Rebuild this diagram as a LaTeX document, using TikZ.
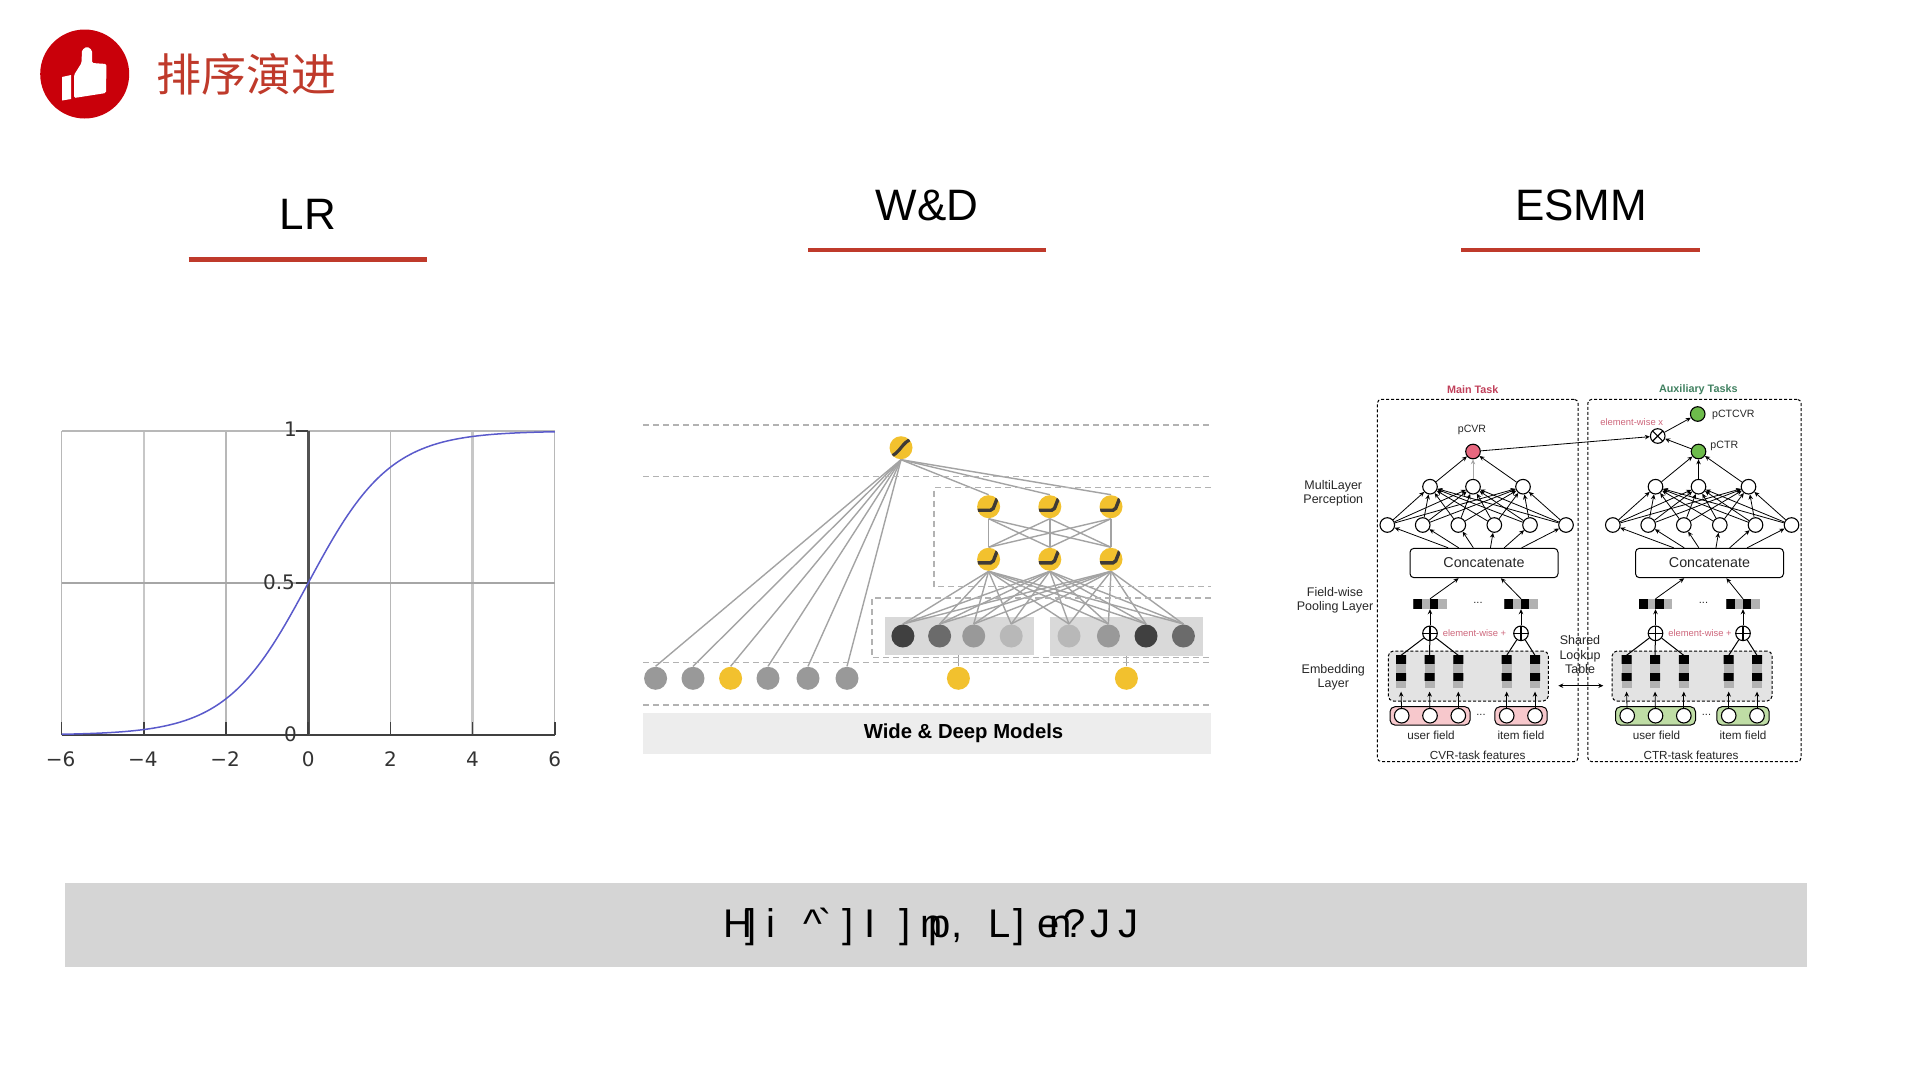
\documentclass[tikz,border=0pt]{standalone}
\usepackage{fontspec}
\setmainfont{Liberation Sans}
\setsansfont{Liberation Sans}
\newfontfamily\cjk{Noto Sans CJK SC}
\newfontfamily\plotfont{DejaVu Sans}
\usetikzlibrary{arrows.meta, backgrounds}
\definecolor{cred}{HTML}{C9000A}
\definecolor{cline}{HTML}{BF3A2B}
\definecolor{cyellow}{HTML}{F2C12E}
\definecolor{cdark}{HTML}{3F3A36}
\definecolor{cwire}{HTML}{A3A3A3}
\definecolor{crose}{HTML}{C0405A}
\definecolor{cpink}{HTML}{F7C8CC}
\definecolor{cblush}{HTML}{E8677F}
\definecolor{cgreen}{HTML}{6DBB4B}
\definecolor{cleaf}{HTML}{BFDDA5}
\definecolor{cforest}{HTML}{3F7F5F}
\definecolor{ccurve}{HTML}{5A5ACB}
\tikzset{
  every picture/.style={font=\sffamily, line width=1pt},
  head/.style={font=\fontsize{44}{50}\selectfont, inner sep=0pt},
  tiny/.style={font=\fontsize{#1}{14.5}\selectfont, text=black!85, inner sep=0pt, align=center},
  tiny/.default=12,
  plotnum/.style={font=\plotfont\fontsize{20}{24}\selectfont, text=black!80, inner sep=0pt},
  rule/.style={cline, line width=4.5pt},
  wire/.style={cwire, line width=1.4pt},
  wddash/.style={black!30, line width=1.4pt, dash pattern=on 6pt off 4pt},
  wdnode/.style={circle, fill=#1, minimum size=23pt, inner sep=0pt},
  wdtop/.style={wdnode=cyellow, path picture={
      \draw[cdark, line width=3.2pt, shift={(path picture bounding box.center)}]
        (-12,9) .. controls (-1,7) and (1,-7) .. (12,-9);}},
  wdhid/.style={wdnode=cyellow, path picture={
      \draw[cdark, line width=3.4pt, rounded corners=2pt, shift={(path picture bounding box.center)}]
        (-12,3.5) -- (4,3.5) -- (10,-12);}},
  nn/.style={circle, draw=black, fill=#1, minimum size=14.6pt, inner sep=0pt, line width=1.1pt},
  nn/.default=white,
  arr/.style={-{Stealth[length=5pt, width=4.5pt]}, black, line width=0.8pt},
  opsum/.style={nn, path picture={
      \draw[black, line width=1.1pt, shift={(path picture bounding box.center)}]
        (-8,0) -- (8,0) (0,-8) -- (0,8);}},
  opmul/.style={nn, path picture={
      \draw[black, line width=1.1pt, shift={(path picture bounding box.center)}]
        (-6,-6) -- (6,6) (-6,6) -- (6,-6);}},
  embcol/.style={inner sep=0pt, minimum width=10pt, minimum height=32.3pt, fill=black!30, path picture={
      \begin{scope}[shift={(path picture bounding box.center)}]
        \fill[black] (-6,-17) rectangle (6,-7.6);
        \fill[black] (-6,0.8) rectangle (6,9.2);
      \end{scope}}},
  poolbar/.style={inner sep=0pt, minimum width=33.4pt, minimum height=9.4pt, fill=black!30, path picture={
      \begin{scope}[shift={(path picture bounding box.center)}]
        \fill[black] (-17,-5) rectangle (-7.8,5);
        \fill[black] (-0.5,-5) rectangle (8,5);
      \end{scope}}},
}
\begin{document}
\begin{tikzpicture}[x=1pt, y=-1pt]
  \useasboundingbox (0,0) rectangle (1920,1080);
  % header
  \node[circle, fill=cred, minimum size=89pt, inner sep=0pt] (logo) at (84.7,74) {};
  \fill[white] (62,77) -- (71,75) -- (71,99) -- (62,100.5) -- cycle;
  \fill[white, rounded corners=1.5pt] (74,98) -- (74,75) -- (81.5,63) -- (82,50)
    -- (87,46.5) -- (92,50) -- (92,63) -- (106.5,64) -- (106,93) -- cycle;
  \node[font=\cjk\fontsize{45}{50}\selectfont, text=cline, inner sep=0pt] (title) at (246,74) {排序演进};

  \node[head] (lrhead) at (308,214.5) {LR};
  \node[head] (wdhead) at (927,205.5) {W\&D};
  \node[head] (eshead) at (1581,205.5) {ESMM};
  \draw[rule] (188.6,259.6) -- (427,259.6);
  \draw[rule] (808,250) -- (1046,250);
  \draw[rule] (1461,250) -- (1700,250);

  % bottom bar, its letters overlap as printed
  \node[fill=black!16.5, minimum width=1742pt, minimum height=84.5pt, inner sep=0pt] (bar) at (936,925) {};
  \node[font=\fontsize{40}{42}\selectfont, anchor=base west, inner sep=0pt] (bartext) at (723,937)
    {H\kern-6.9pt]\kern9.9pt i\kern28.1pt\textasciicircum\kern-3.4pt\textasciigrave\kern10.7pt]\kern10.9pt I\kern23.9pt]\kern9.9pt n\kern-14.2pt p\kern0.8pt,\kern25.9pt L\kern1.8pt]\kern12.9pt e\kern-10.2pt n\kern-8.2pt?\kern4.8pt J\kern8pt J};

  % LR curve
  \foreach \t in {-6,-2,0,2,6} \draw[black!28, line width=1.2pt] ({308.2+41.1*\t},431) -- ({308.2+41.1*\t},735);
  \foreach \t in {-4,4} \draw[black!22, line width=2.6pt] ({308.2+41.1*\t},431) -- ({308.2+41.1*\t},735);
  \draw[black!28, line width=1.5pt] (61.6,431) -- (555,431);
  \draw[black!35, line width=1.2pt] (61.6,583) -- (555,583);
  \draw[black!75, line width=2pt] (61.6,735) -- (555,735);
  \draw[black!68, line width=3pt] (308.2,431) -- (308.2,735);
  \foreach \t in {-6,-4,...,6} \draw[black!75, line width=1.5pt] ({308.2+41.1*\t},735) -- ({308.2+41.1*\t},722);
  \foreach \v in {431,583,735} \draw[black!75, line width=1.5pt] (296,\v) -- (308.2,\v);
  \draw[ccurve, line width=1.5pt] plot[domain=-6:6, samples=120, smooth]
    ({308.2+41.1*\x},{735-304/(1+exp(-(\x)))});
  \foreach \t/\s in {-6/−6,-4/−4,-2/−2,0/0,2/2,4/4,6/6}
    \node[plotnum] (xnum\t) at ({308.2+41.1*\t-(\t<0)*1},759.5) {\s};
  \node[plotnum] (yone) at (290.5,429) {1};
  \node[plotnum] (yhalf) at (279,582) {0.5};
  \node[plotnum] (yzero) at (290.5,734) {0};

  % W&D
  \foreach \v in {425,476.7,662.7,705} \draw[wddash] (643,\v) -- (1211,\v);
  \draw[wddash] (1211,487.7) -- (934,487.7) -- (934,586.7) -- (1211,586.7);
  \draw[wddash] (1211,598) -- (872,598) -- (872,657.7) -- (1211,657.7);
  \node[fill=black!7, minimum width=568pt, minimum height=41pt, inner sep=0pt] (wdban) at (927,733.8) {};
  \node[font=\bfseries\fontsize{20.3}{24}\selectfont, inner sep=0pt] (wdname) at (963.5,733.5) {Wide \& Deep Models};
  \node[wdtop] (top) at (901,447.7) {};
  \foreach \k/\px in {1/988.6,2/1049.8,3/1111} {
    \node[wdhid] (u\k) at (\px,506.7) {};
    \node[wdhid] (d\k) at (\px,559.3) {};
  }
  \foreach \k/\px/\c in {1/902.9/black!75,2/939.6/black!58,3/973.7/black!40,4/1011.2/black!28,5/1069/black!28,6/1108.4/black!40,7/1146/black!75,8/1183.4/black!58}
    \node[wdnode=\c] (e\k) at (\px,636) {};
  \foreach \k/\px/\c in {1/655.6/black!40,2/693/black!40,3/730.6/cyellow,4/768/black!40,5/808/black!40,6/847/black!40,7/958.4/cyellow,8/1126.4/cyellow}
    \node[wdnode=\c] (w\k) at (\px,678.3) {};
  \begin{scope}[on background layer]
    \node[fill=black!15, minimum width=149pt, minimum height=37.7pt, inner sep=0pt] (pan1) at (959,636.2) {};
    \node[fill=black!15, minimum width=153pt, minimum height=38.7pt, inner sep=0pt] (pan2) at (1126.5,636.6) {};
    \foreach \i in {1,...,6} \draw[wire] (w\i.north) -- (top.south);
    \foreach \i in {1,...,3} {
      \draw[wire] (top.south) -- (u\i.north);
      \foreach \j in {1,...,3} \draw[wire] (u\i.south) -- (d\j.north);
      \foreach \j in {1,...,8} \draw[wire] (d\i.south) -- (e\j.north);
    }
    \draw[wire] (w7) -- (w7 |- pan1.south);
    \draw[wire] (w8) -- (w8 |- pan2.south);
  \end{scope}

  % one ESMM tower: \esmmtask{xshift}{prefix}{top colour}{field colour}{item shift}{middle arrow}
  \newcommand{\esmmtask}[6]{%
    \begin{scope}[xshift=#1]
      \node[nn=#3] (#2top) at (1473,451.5) {};
      \node[draw=black, rounded corners=4pt, minimum width=148pt, minimum height=29.4pt, inner sep=0pt, font=\fontsize{14.3}{16}\selectfont, text=black!85] (#2con) at (1484,563) {Concatenate};
      \foreach \k/\px in {1/1430,2/1473,3/1523} \node[nn] (#2m\k) at (\px,486.7) {};
      \foreach \k/\px in {1/1387.3,2/1422.7,3/1458.3,4/1494.3,5/1530,6/1566} \node[nn] (#2l\k) at (\px,525) {};
      \draw[arr] (#2m1) -- (#2top);
      \draw[arr, #6] (#2m2) -- (#2top);
      \draw[arr] (#2m3) -- (#2top);
      \foreach \i in {1,...,6} \foreach \j in {1,...,3} \draw[arr] (#2l\i) -- (#2m\j);
      \foreach \k/\a in {1/157,2/149,3/125,4/67,5/37,6/22} \draw[arr] (#2con.\a) -- (#2l\k);
      \node[poolbar] (#2b1) at (1430,604) {};
      \node[poolbar] (#2b2) at ({1521+#5},604) {};
      \node[tiny=11] (#2d1) at (1478,603) {...};
      \draw[arr] (#2b1.north) -- (#2con.211);
      \draw[arr] (#2b2.north) -- (#2con.318);
      \node[opsum] (#2o1) at (1430,633.3) {};
      \node[opsum] (#2o2) at ({1521+#5},633.3) {};
      \node[tiny=9.4, text=crose!80] (#2wise) at (1474.5,633.3) {element-wise +};
      \draw[arr] (#2o1) -- (#2b1);
      \draw[arr] (#2o2) -- (#2b2);
      \node[draw=black, dashed, dash pattern=on 3pt off 2pt, fill=black!11, rounded corners=5pt, minimum width=160pt, minimum height=50pt, inner sep=0pt] (#2emb) at ({1468.3+0.5*#5},676) {};
      \foreach \k/\px in {1/1401,2/1429.5,3/1458.3} {
        \node[embcol] (#2c\k) at (\px,672) {};
        \draw (#2o1) -- (#2c\k.north);
      }
      \foreach \k/\px in {4/1506.7,5/1535} {
        \node[embcol] (#2c\k) at ({\px+#5},672) {};
        \draw (#2o2) -- (#2c\k.north);
      }
      \node[draw=black, fill=#4, rounded corners=5pt, minimum width=80pt, minimum height=18.4pt, inner sep=0pt] (#2uf) at (1430,715.9) {};
      \node[draw=black, fill=#4, rounded corners=5pt, minimum width=52.3pt, minimum height=18.4pt, inner sep=0pt] (#2if) at ({1521+#5},715.9) {};
      \foreach \k/\px in {1/1401.7,2/1430,3/1458.3} \node[nn] (#2i\k) at (\px,715.7) {};
      \foreach \k/\px in {4/1506.7,5/1535} \node[nn] (#2i\k) at ({\px+#5},715.7) {};
      \foreach \k in {1,...,5} \draw[arr, shorten >=3pt] (#2i\k) -- (#2c\k.south);
      \node[tiny=11] (#2d2) at (1481,715) {...};
      \node[tiny=11.7] (#2user) at (1431,735.7) {user field};
      \node[tiny=11.7] (#2item) at ({1521+#5},735.7) {item field};
    \end{scope}}
  \esmmtask{0}{v}{cblush}{cpink}{0}{black!35}
  \esmmtask{225.5}{t}{cgreen}{cleaf}{-3.5}{black}
  \node[tiny=11.7] (vfeat) at (1477.7,755) {CVR-task features};
  \node[tiny=11.7] (tfeat) at (1691,755) {CTR-task features};
  \node[draw=black, dashed, dash pattern=on 3pt off 2pt, rounded corners=4pt, minimum width=200.7pt, minimum height=362.4pt, inner sep=0pt] (mbox) at (1477.7,580.5) {};
  \node[draw=black, dashed, dash pattern=on 3pt off 2pt, rounded corners=4pt, minimum width=213.3pt, minimum height=362.4pt, inner sep=0pt] (abox) at (1694.4,580.5) {};
  \node[tiny=10.8, font=\bfseries\fontsize{10.8}{12}\selectfont, text=crose] (mtask) at (1472.7,389.3) {Main Task};
  \node[tiny=10.8, font=\bfseries\fontsize{10.8}{12}\selectfont, text=cforest] (atask) at (1698.3,389.3) {Auxiliary Tasks};
  \node[tiny=10.6] (pcvr) at (1472,430) {pCVR};
  \node[tiny=10.6] (pctr) at (1724.3,445.7) {pCTR};
  \node[tiny=10.6] (pctcvr) at (1733.3,414.7) {pCTCVR};
  \node[nn=cgreen] (tcv) at (1697.7,414) {};
  \node[opmul] (mul) at (1657.7,436) {};
  \node[tiny=9.4, text=crose!80] (mulname) at (1631.7,421.7) {element-wise x};
  \draw[arr] (vtop) -- (mul);
  \draw[arr] (ttop) -- (mul);
  \draw[arr] (mul) -- (tcv);
  \node[tiny=12.5] (lmlp) at (1333.3,493.2) {MultiLayer\\Perception};
  \node[tiny=12.5] (lpool) at (1335,600.5) {Field-wise\\Pooling Layer};
  \node[tiny=12.5] (lemb) at (1333.3,677.2) {Embedding\\Layer};
  \node[tiny=12.5] (lshare) at (1580,655) {Shared\\Lookup\\Table};
  \coordinate (sl) at (1558.3,685.7);
  \coordinate (sr) at (1603.3,685.7);
  \draw[{Stealth[length=5pt, width=4.5pt]}-{Stealth[length=5pt, width=4.5pt]}, line width=0.8pt] (sl) -- (sr);
\end{tikzpicture}
\end{document}
